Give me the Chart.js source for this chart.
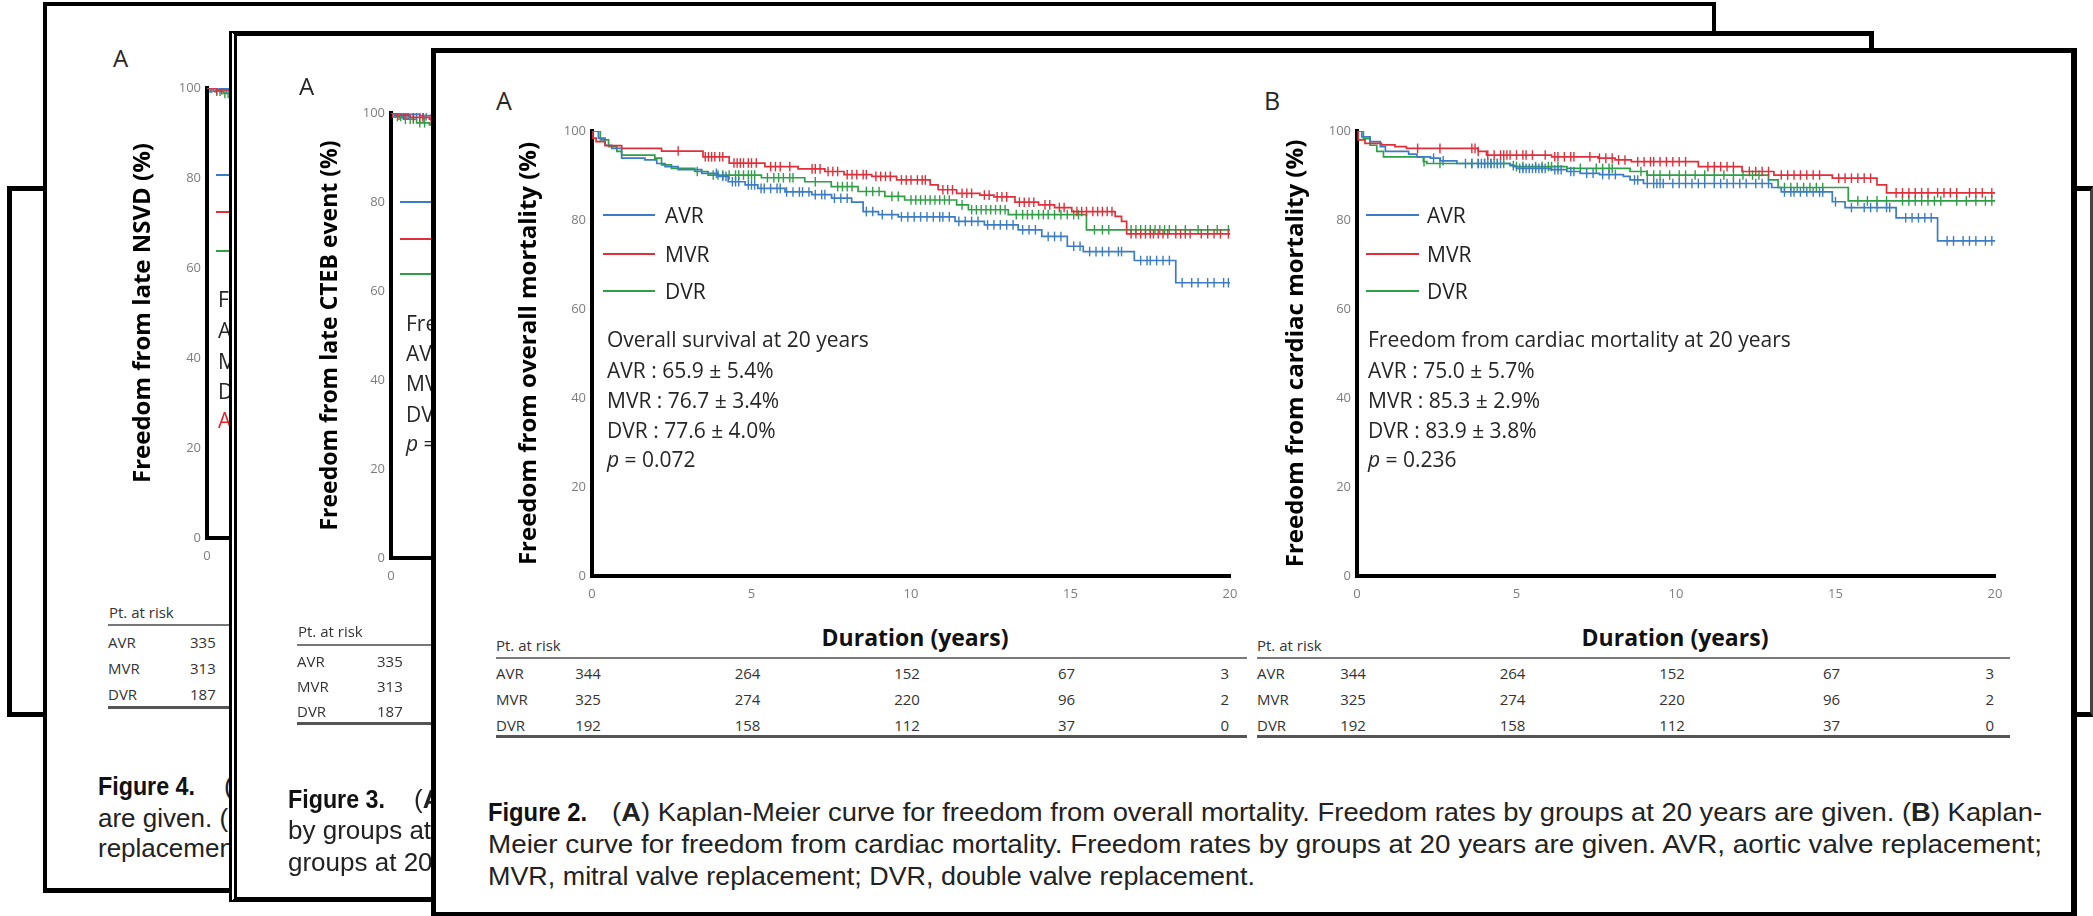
<!DOCTYPE html>
<html>
<head>
<meta charset="utf-8">
<script src="https://cdn.jsdelivr.net/npm/chart.js@4.4.1/dist/chart.umd.min.js"></script>
<style>
html,body{margin:0;padding:0;background:#fff;}
#page{position:relative;width:2093px;height:916px;overflow:hidden;background:#fff;font-family:"Open Sans",sans-serif;}
.layer{position:absolute;box-sizing:border-box;border-style:solid;border-color:#000;background:#fff;overflow:hidden;}
.inner{position:absolute;width:2093px;height:916px;}
.t{position:absolute;white-space:nowrap;}
.hl{position:absolute;}
canvas{position:absolute;}
</style>
</head>
<body>
<div id="page"></div>
<script>
// ================= DATA =================
const xTickYears = [0, 5, 10, 15, 20];
const yTickPct = [0, 20, 40, 60, 80, 100];
const groups = ['AVR', 'MVR', 'DVR'];

// Figure 2A – freedom from overall mortality (step points: time in years, survival %)
const aAvrT = [0, 0.2, 0.41, 0.62, 0.93, 1.66, 2.03, 2.29, 2.7, 3.44, 3.96, 4.27, 4.8, 5.2, 6.05, 6.89, 7.51, 8.14, 8.5, 8.98, 9.6, 11.38, 12.3, 13.36, 14.1, 14.9, 15.4, 17.0, 18.3, 20];
const aAvrS = [100, 98.4, 96.8, 96.1, 93.9, 93.5, 92.7, 92.0, 91.3, 90.5, 89.8, 88.6, 87.9, 87.1, 86.3, 85.7, 84.9, 84.0, 81.9, 81.2, 80.7, 79.7, 78.9, 77.8, 76.3, 74.1, 72.9, 70.9, 65.9, 65.9];
const aMvrT = [0, 0.03, 0.13, 0.41, 0.93, 2.18, 3.48, 4.3, 5.42, 6.46, 7.3, 7.9, 8.77, 9.55, 10.6, 10.85, 11.43, 12.16, 12.6, 13.26, 14.0, 14.5, 15.04, 16.4, 16.6, 16.76, 20];
const aMvrS = [100, 98.4, 97.6, 96.7, 96.1, 95.5, 94.2, 92.8, 92.0, 91.5, 90.9, 90.2, 89.8, 89.0, 87.9, 86.8, 86.0, 85.6, 85.2, 84.0, 83.4, 82.8, 81.9, 80.8, 79.7, 76.9, 76.9];
const aDvrT = [0, 0.26, 0.52, 0.78, 0.93, 1.97, 2.18, 2.49, 3.22, 3.64, 5.31, 6.67, 7.5, 8.34, 9.18, 9.8, 11.43, 11.8, 13.05, 15.5, 20];
const aDvrS = [100, 98.0, 96.5, 95.4, 94.6, 93.9, 92.4, 91.6, 90.9, 90.1, 89.5, 88.6, 87.5, 86.4, 85.3, 84.5, 83.4, 82.3, 81.2, 77.8, 77.8];
// censored times (tick marks)
const aAvrC = [3.9,4.1,4.2,4.4,4.5,4.6,4.9,5.0,5.1,5.3,5.4,5.6,5.8,5.9,6.1,6.3,6.5,6.6,6.8,7.0,7.2,7.3,7.6,7.8,8.0,8.6,8.8,9.1,9.4,9.7,9.9,10.1,10.3,10.5,10.7,10.9,11.0,11.2,11.5,11.7,11.9,12.1,12.4,12.6,12.8,13.0,13.2,13.5,13.7,13.9,14.3,14.5,14.7,15.1,15.3,15.6,15.8,16.0,16.2,16.5,16.6,17.2,17.4,17.5,17.7,17.9,18.1,18.5,18.8,19.0,19.3,19.5,19.8,19.95];
const aMvrC = [2.7,3.55,3.65,3.75,3.85,4.0,4.1,4.45,4.55,4.65,4.75,4.9,5.0,5.15,5.6,5.75,5.9,6.2,6.9,7.0,7.15,7.4,7.55,7.7,8.0,8.15,8.3,8.5,8.6,8.9,9.05,9.2,9.35,9.7,9.85,10.0,10.2,10.35,10.45,11.0,11.15,11.3,11.6,11.75,11.9,12.3,12.45,12.7,12.85,13.0,13.4,13.55,13.7,13.85,14.2,14.35,14.65,14.8,15.2,15.35,15.5,15.7,15.85,16.0,16.15,16.3,16.9,17.05,17.2,17.35,17.5,17.6,17.75,17.9,18.05,18.3,18.45,18.6,18.75,19.1,19.3,19.5,19.7,19.95];
const aDvrC = [3.3,3.8,3.95,4.1,4.3,4.5,4.6,4.75,4.9,5.0,5.1,5.5,5.7,5.85,6.0,6.2,6.3,7.0,7.7,7.85,8.0,8.15,8.6,8.8,9.0,9.4,9.6,10.0,10.15,10.3,10.45,10.6,10.75,10.9,11.05,11.2,11.6,11.9,12.05,12.2,12.35,12.5,12.65,12.8,12.95,13.3,13.5,13.65,13.8,14.0,14.15,14.3,14.5,14.7,14.9,15.1,15.25,15.75,16.0,16.2,16.9,17.05,17.2,17.35,17.5,17.65,17.8,17.95,18.1,18.3,18.6,19.0,19.3,19.6,19.95];

// Figure 2B – freedom from cardiac mortality
const bAvrT = [0, 0.15, 0.41, 0.73, 0.89, 1.62, 1.88, 2.3, 2.61, 3.13, 4.8, 5.0, 6.06, 6.58, 7.0, 7.6, 8.35, 8.56, 8.98, 13.0, 13.3, 14.9, 15.3, 16.9, 18.2, 20];
const bAvrS = [100, 98.7, 97.6, 96.5, 95.4, 94.8, 94.2, 93.9, 93.3, 92.7, 92.2, 91.6, 91.3, 90.9, 90.5, 90.2, 89.8, 89.0, 88.2, 87.3, 86.3, 84.1, 82.8, 80.5, 75.3, 75.3];
const bMvrT = [0, 0.04, 0.25, 0.77, 1.19, 1.55, 3.8, 4.06, 6.1, 7.56, 8.09, 8.6, 10.7, 12.07, 13.07, 14.9, 16.3, 16.6, 20];
const bMvrS = [100, 98.0, 97.2, 96.9, 96.5, 96.1, 95.4, 94.6, 94.2, 93.9, 93.5, 93.1, 92.0, 90.9, 90.1, 89.4, 87.9, 86.1, 86.1];
const bDvrT = [0, 0.2, 0.41, 0.62, 0.83, 2.08, 2.19, 4.8, 4.9, 6.58, 8.56, 9.09, 12.9, 13.2, 15.4, 20];
const bDvrS = [100, 98.3, 96.8, 95.4, 94.2, 93.1, 92.7, 92.4, 92.0, 91.6, 90.9, 90.1, 89.0, 87.3, 84.3, 84.3];
const bAvrC = [2.4,2.7,3.4,3.6,3.8,3.9,4.0,4.1,4.2,4.3,4.4,4.5,4.9,5.1,5.2,5.3,5.4,5.5,5.6,5.7,5.8,5.9,6.2,6.3,6.4,6.7,6.8,7.2,7.4,7.7,7.9,8.1,8.7,8.8,9.1,9.3,9.4,9.5,9.6,9.9,10.1,10.3,10.5,10.7,10.9,11.2,11.4,11.6,11.8,12.0,12.2,12.5,12.7,12.9,13.4,13.6,13.7,13.9,14.1,14.3,14.5,14.6,15.0,15.5,15.9,16.1,16.3,16.6,16.7,17.2,17.4,17.6,17.8,18.0,18.5,18.7,19.0,19.2,19.4,19.7,19.9];
const bMvrC = [1.9,2.6,3.6,3.7,3.8,4.1,4.3,4.5,4.6,4.7,4.8,5.0,5.2,5.3,5.5,5.9,6.2,6.3,6.5,6.7,6.8,7.3,7.6,7.8,8.0,8.2,8.4,8.8,9.0,9.2,9.3,9.5,9.7,9.9,10.1,10.3,11.0,11.2,11.4,11.6,11.8,12.3,12.5,12.7,12.9,13.3,13.5,13.7,13.9,14.1,14.3,14.5,15.1,15.3,15.5,15.7,15.9,16.1,16.9,17.1,17.3,17.5,17.7,17.9,18.2,18.4,18.6,18.8,19.2,19.4,19.6,19.9];
const bDvrC = [2.1,2.6,3.6,3.8,4.0,4.2,4.4,4.6,5.0,5.2,5.6,5.8,6.0,6.1,6.3,7.0,7.5,7.7,7.9,8.0,8.9,9.1,9.3,9.5,9.8,10.1,10.3,10.6,10.9,11.2,11.5,11.8,12.1,12.4,12.6,13.4,13.6,13.8,14.0,14.2,14.4,14.6,15.7,16.0,16.3,16.6,17.1,17.3,17.5,17.7,17.9,18.1,18.3,18.8,19.1,19.4,19.7,19.9];

// Figure 3 / Figure 4 (only the start of the curves is visible)
const f3AvrT = [0, 0.3, 0.9, 1.5, 3];   const f3AvrS = [100, 99.7, 99.4, 99.2, 99.2];
const f3MvrT = [0, 0.2, 0.6, 1.2, 3];   const f3MvrS = [100, 99.5, 99.0, 98.6, 98.6];
const f3DvrT = [0, 0.15, 0.4, 0.8, 1.2, 3]; const f3DvrS = [100, 99.2, 98.6, 97.8, 97.3, 97.3];
const f3AvrC = [0.1,0.2,0.35,0.45,0.55,0.7,0.8,1.0,1.1,1.3];
const f3MvrC = [0.05,0.15,0.25,0.4,0.5,0.7,0.9,1.0,1.25];
const f3DvrC = [0.1,0.2,0.3,0.45,0.6,0.7,0.9,1.05,1.3];
const f4AvrT = [0, 0.5, 2];  const f4AvrS = [100, 99.8, 99.8];
const f4MvrT = [0, 0.3, 2];  const f4MvrS = [100, 99.6, 99.6];
const f4DvrT = [0, 0.2, 0.5, 2]; const f4DvrS = [100, 99.3, 98.8, 98.8];
const f4AvrC = [0.1,0.25,0.4,0.6];
const f4MvrC = [0.15,0.3,0.45];
const f4DvrC = [0.1,0.3,0.4,0.55,0.65];

// Patients at risk (at 0, 5, 10, 15, 20 years)
const riskAVR = [344, 264, 152, 67, 3];
const riskMVR = [325, 274, 220, 96, 2];
const riskDVR = [192, 158, 112, 37, 0];
const riskFig3 = [335, 313, 187];
const riskFig4 = [335, 313, 187];

// Summary annotations
const sumA = ['65.9 ± 5.4%', '76.7 ± 3.4%', '77.6 ± 4.0%']; const pA = '0.072';
const sumB = ['75.0 ± 5.7%', '85.3 ± 2.9%', '83.9 ± 3.8%']; const pB = '0.236';

// ================= STYLE / LAYOUT =================
const COL = {AVR: '#3b7cc4', MVR: '#df2f3a', DVR: '#2f9f46'};
const page = document.getElementById('page');
Chart.defaults.font.family = "'Open Sans', sans-serif";

function makeLayer(z, L, T, W, H, b, extra) {
  const d = document.createElement('div');
  d.className = 'layer';
  Object.assign(d.style, {left: L + 'px', top: T + 'px', width: W + 'px', height: H + 'px', zIndex: z,
    borderTopWidth: b[0] + 'px', borderRightWidth: b[1] + 'px', borderBottomWidth: b[2] + 'px', borderLeftWidth: b[3] + 'px'});
  if (extra) Object.assign(d.style, extra);
  const inner = document.createElement('div');
  inner.className = 'inner';
  inner.style.left = -(L + b[3]) + 'px';
  inner.style.top = -(T + b[0]) + 'px';
  d.appendChild(inner);
  page.appendChild(d);
  return inner;
}

function txt(parent, html, x, cy, o) {
  o = o || {};
  const fs = o.size || 20;
  const d = document.createElement('div');
  d.className = 't';
  d.innerHTML = html;
  Object.assign(d.style, {fontSize: fs + 'px', lineHeight: Math.round(fs * 1.25) + 'px',
    fontFamily: o.family || "'Open Sans', sans-serif", fontWeight: o.weight || 'normal',
    color: o.color || '#262626', fontStyle: o.italic ? 'italic' : 'normal'});
  parent.appendChild(d);
  const w = d.getBoundingClientRect().width;
  let left = x, sx = 1;
  if (o.fit) { sx = o.fit / w; d.style.transformOrigin = 'left center'; d.style.transform = 'scaleX(' + sx + ')'; }
  if (o.align === 'center') left = x - w * sx / 2;
  if (o.align === 'right') left = x - w * sx;
  d.style.left = left + 'px';
  d.style.top = (cy - Math.round(fs * 1.25) / 2) + 'px';
  return d;
}

function hline(parent, x1, x2, y, h, color) {
  const d = document.createElement('div');
  d.className = 'hl';
  Object.assign(d.style, {left: x1 + 'px', top: y + 'px', width: (x2 - x1) + 'px', height: h + 'px', background: color});
  parent.appendChild(d);
}

function stepAt(T, S, t) {
  let v = S[0];
  for (let i = 0; i < T.length; i++) { if (T[i] <= t) v = S[i]; }
  return v;
}

function kmChart(parent, L, T, W, H, area, series, title, titleCx, titleSize) {
  const c = document.createElement('canvas');
  c.width = W; c.height = H;
  Object.assign(c.style, {left: L + 'px', top: T + 'px', width: W + 'px', height: H + 'px'});
  parent.appendChild(c);
  const axisW = area.left - L, xAxisH = 34;
  const datasets = [];
  series.forEach(s => {
    datasets.push({type: 'line', data: s.t.map((t, i) => ({x: t, y: s.s[i]})), borderColor: s.color,
      borderWidth: 1.7, stepped: 'before', pointRadius: 0, fill: false, tension: 0});
    datasets.push({type: 'scatter', data: s.c.map(t => ({x: t, y: stepAt(s.t, s.s, t)})),
      pointStyle: 'line', pointRotation: 90, pointRadius: 4.8, pointBorderWidth: 1.4,
      pointBorderColor: s.color, pointBackgroundColor: s.color, pointHoverRadius: 0});
  });
  const tickFont = {family: "'Open Sans', sans-serif", size: 13};
  const lh = titleSize * 1.2;
  return new Chart(c, {
    type: 'line',
    data: {datasets},
    options: {
      responsive: false, animation: false, devicePixelRatio: 1, events: [],
      layout: {padding: {left: 0, top: area.top - T, right: L + W - area.right, bottom: T + H - area.bottom - xAxisH}},
      plugins: {legend: {display: false}, tooltip: {enabled: false}},
      scales: {
        x: {type: 'linear', min: 0, max: 20,
          afterFit: s => { s.height = xAxisH; },
          afterBuildTicks: s => { s.ticks = xTickYears.map(v => ({value: v})); },
          grid: {display: false, drawTicks: false}, border: {color: '#000', width: 4},
          ticks: {color: '#7d7d7d', font: tickFont, padding: 10, autoSkip: false, maxRotation: 0}},
        y: {type: 'linear', min: 0, max: 100,
          afterFit: s => { s.width = axisW; },
          afterBuildTicks: s => { s.ticks = yTickPct.map(v => ({value: v})); },
          grid: {display: false, drawTicks: false}, border: {color: '#000', width: 4},
          ticks: {color: '#7d7d7d', font: tickFont, padding: 6, autoSkip: false},
          title: {display: true, text: title, color: '#000',
            font: {family: "'Open Sans', sans-serif", weight: 'bold', size: titleSize, lineHeight: 1.2},
            padding: {top: titleCx - L - lh / 2, bottom: 0}}}
      }
    }
  });
}

function series3(aT, aS, aC, mT, mS, mC, dT, dS, dC) {
  return [
    {t: mT, s: mS, c: mC, color: COL.MVR},
    {t: aT, s: aS, c: aC, color: COL.AVR},
    {t: dT, s: dS, c: dC, color: COL.DVR}
  ];
}

const capFont = "'Liberation Sans', Arial, sans-serif";
const capBold = "'Liberation Sans Narrow', 'Arial Narrow', 'Liberation Sans', Arial, sans-serif";

// ---------- rear frame ----------
makeLayer(1, 7, 186, 2086, 531, [5, 3, 5, 5], {borderRightColor: '#444'});

// ---------- Figure 4 ----------
const f4 = makeLayer(2, 43, 2, 1673, 891, [4, 4, 5, 4]);
txt(f4, 'A', 113, 58, {size: 24});
kmChart(f4, 55, 20, 850, 560, {left: 207, top: 88, right: 857, bottom: 538},
  series3(f4AvrT, f4AvrS, f4AvrC, f4MvrT, f4MvrS, f4MvrC, f4DvrT, f4DvrS, f4DvrC),
  'Freedom from late NSVD (%)', 143, 24);
[['AVR', 174], ['MVR', 211], ['DVR', 250]].forEach(([g, y]) => hline(f4, 216, 262, y, 2, COL[g]));
txt(f4, 'Freedom from late NSVD', 218, 299, {size: 21});
txt(f4, 'AVR :', 218, 330, {size: 21});
txt(f4, 'MVR :', 218, 361, {size: 21});
txt(f4, 'DVR :', 218, 391, {size: 21});
txt(f4, 'AVR', 218, 420, {size: 21, color: '#e2222b'});
txt(f4, 'Pt. at risk', 109, 612, {size: 15, color: '#333'});
hline(f4, 108, 700, 624, 2, '#777');
groups.forEach((g, i) => {
  txt(f4, g, 108, 642 + i * 26, {size: 15, color: '#333'});
  txt(f4, String(riskFig4[i]), 190, 642 + i * 26, {size: 15, color: '#333'});
});
hline(f4, 108, 700, 706, 3, '#555');
txt(f4, 'Figure 4.', 98, 786, {size: 26, weight: 'bold', family: capBold, color: '#111', fit: 97});
txt(f4, '(<b>A</b>) Kaplan-Meier curve for freedom from late NSVD.', 224, 786, {size: 26, family: capFont, color: '#222'});
txt(f4, 'are given. (<b>B</b>) Kaplan-Meier curve', 98, 818, {size: 26, family: capFont, color: '#222'});
txt(f4, 'replacement; MVR, mitral valve replacement.', 98, 848, {size: 26, family: capFont, color: '#222'});

// ---------- Figure 3 ----------
const f3 = makeLayer(3, 229, 31, 1645, 871, [5, 5, 5, 8], {borderLeftStyle: 'double'});
txt(f3, 'A', 299, 86, {size: 24});
kmChart(f3, 240, 50, 900, 560, {left: 391, top: 113, right: 1031, bottom: 558},
  series3(f3AvrT, f3AvrS, f3AvrC, f3MvrT, f3MvrS, f3MvrC, f3DvrT, f3DvrS, f3DvrC),
  'Freedom from late CTEB event (%)', 330, 23);
[['AVR', 201], ['MVR', 238], ['DVR', 273]].forEach(([g, y]) => hline(f3, 400, 452, y, 2, COL[g]));
txt(f3, 'Freedom from late CTEB event', 406, 323, {size: 21});
txt(f3, 'AVR :', 406, 353, {size: 21});
txt(f3, 'MVR :', 406, 383, {size: 21});
txt(f3, 'DVR :', 406, 414, {size: 21});
txt(f3, '<i>p</i> =', 406, 443, {size: 21});
txt(f3, 'Pt. at risk', 298, 631, {size: 15, color: '#333'});
hline(f3, 297, 900, 644, 2, '#777');
groups.forEach((g, i) => {
  txt(f3, g, 297, 661 + i * 25, {size: 15, color: '#333'});
  txt(f3, String(riskFig3[i]), 377, 661 + i * 25, {size: 15, color: '#333'});
});
hline(f3, 297, 900, 722, 3, '#555');
txt(f3, 'Figure 3.', 288, 799, {size: 26, weight: 'bold', family: capBold, color: '#111', fit: 97});
txt(f3, '(<b>A</b>) Kaplan-Meier curve for freedom from late CTEB event.', 414, 799, {size: 26, family: capFont, color: '#222'});
txt(f3, 'by groups at 20 years are given.', 288, 830, {size: 26, family: capFont, color: '#222'});
txt(f3, 'groups at 20 years are given.', 288, 862, {size: 26, family: capFont, color: '#222'});

// ---------- Figure 2 ----------
const f2 = makeLayer(4, 431, 48, 1646, 868, [5, 6, 4, 5]);
txt(f2, 'A', 496, 100, {size: 25});
txt(f2, 'B', 1264, 100, {size: 25});
const chA = kmChart(f2, 440, 60, 810, 560, {left: 592, top: 131, right: 1230, bottom: 576},
  series3(aAvrT, aAvrS, aAvrC, aMvrT, aMvrS, aMvrC, aDvrT, aDvrS, aDvrC),
  'Freedom from overall mortality (%)', 529, 24);
const chB = kmChart(f2, 1205, 60, 810, 560, {left: 1357, top: 131, right: 1995, bottom: 576},
  series3(bAvrT, bAvrS, bAvrC, bMvrT, bMvrS, bMvrC, bDvrT, bDvrS, bDvrC),
  'Freedom from cardiac mortality (%)', 1296, 24);

function panelText(lx1, lx2, tx, ax, head, sums, p) {
  const ly = [215, 254, 291];
  groups.forEach((g, i) => {
    hline(f2, lx1, lx2, ly[i] - 1, 2, COL[g]);
    txt(f2, g, tx, ly[i], {size: 21, color: '#222'});
  });
  txt(f2, head, ax, 339, {size: 21, color: '#262626'});
  groups.forEach((g, i) => txt(f2, g + ' : ' + sums[i], ax, 370 + i * 30, {size: 21, color: '#262626'}));
  txt(f2, '<i>p</i> = ' + p, ax, 459, {size: 21, color: '#262626'});
}
panelText(603, 655, 665, 607, 'Overall survival at 20 years', sumA, pA);
panelText(1366, 1419, 1427, 1368, 'Freedom from cardiac mortality at 20 years', sumB, pB);

function riskTable(ch, canvasLeft, x1, x2, durCx) {
  txt(f2, 'Pt. at risk', x1, 645, {size: 15, color: '#333'});
  txt(f2, 'Duration (years)', durCx, 637, {size: 23, weight: 'bold', color: '#111', align: 'center'});
  hline(f2, x1, x2, 657, 2, '#7a7a7a');
  const rows = [riskAVR, riskMVR, riskDVR];
  groups.forEach((g, i) => {
    const cy = 673 + i * 26;
    txt(f2, g, x1, cy, {size: 15, color: '#333'});
    rows[i].forEach((n, j) => {
      const px = canvasLeft + ch.scales.x.getPixelForValue(xTickYears[j]);
      if (j === xTickYears.length - 1) txt(f2, String(n), px - 1, cy, {size: 15, color: '#333', align: 'right'});
      else txt(f2, String(n), px - 4, cy, {size: 15, color: '#333', align: 'center'});
    });
  });
  hline(f2, x1, x2, 735, 3, '#555');
}
riskTable(chA, 440, 496, 1247, 915);
riskTable(chB, 1205, 1257, 2010, 1675);

txt(f2, 'Figure 2.', 488, 812, {size: 26, weight: 'bold', family: capBold, color: '#111', fit: 99});
txt(f2, '(<b>A</b>) Kaplan-Meier curve for freedom from overall mortality. Freedom rates by groups at 20 years are given. (<b>B</b>) Kaplan-', 612, 812, {size: 26, family: capFont, color: '#222', fit: 1430});
txt(f2, 'Meier curve for freedom from cardiac mortality. Freedom rates by groups at 20 years are given. AVR, aortic valve replacement;', 488, 844, {size: 26, family: capFont, color: '#222', fit: 1554});
txt(f2, 'MVR, mitral valve replacement; DVR, double valve replacement.', 488, 876, {size: 26, family: capFont, color: '#222', fit: 767});
</script>
</body>
</html>
